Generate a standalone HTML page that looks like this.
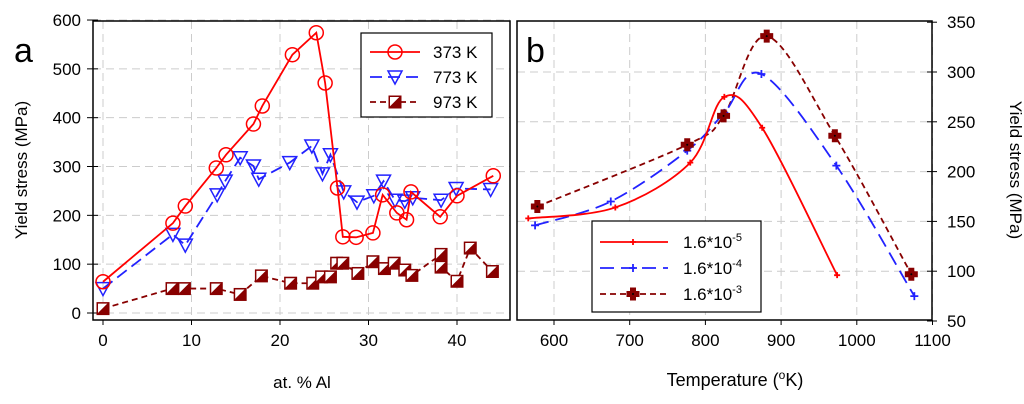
<!DOCTYPE html>
<html><head><meta charset="utf-8"><style>
body{margin:0;background:#fff}
svg{display:block;font-family:"Liberation Sans",sans-serif}
</style></head><body>
<svg id="c" width="1024" height="404"></svg>
<script>
const NS="http://www.w3.org/2000/svg";
const svg=document.getElementById('c');
// Panel a data
const aX373=[0,7.9,9.3,12.8,13.9,17,18,21.4,24.1,25.1,26.5,27.1,28.6,30.5,31.6,33.2,34.3,34.8,38.1,40,44.1];
const aY373=[64,184,219,297,324,387,424,529,574,471,256,156,155,164,242,205,191,248,197,240,281];
const aX773=[0,7.9,9.3,12.9,13.8,15.5,17,17.6,21.1,23.6,24.8,25.7,27.2,28.7,30.6,31.7,33,34.1,35,38.2,39.9,43.8];
const aY773=[50,161,139,242,270,318,301,274,308,342,285,324,248,227,240,270,231,229,236,231,255,253];
const aX973=[0,7.8,9.2,12.8,15.5,17.9,21.2,23.7,24.7,25.7,26.4,27.1,28.8,30.5,31.8,32.9,34.1,34.9,38.2,38.2,40,41.5,44];
const aY973=[9,50,50,50,38,76,61,61,74,74,102,102,81,105,91,102,88,77,120,94,65,133,85];
const aXTicks=[0,10,20,30,40];
const aYTicks=[0,100,200,300,400,500,600];
// Panel b data
const bT5=[566,681,780,825,875,974];
const bY5=[153,164,209,275,244,96];
const bT4=[575,675,776,825,874,973,1076];
const bY4=[146,170,221,259,298,206,75];
const bT3=[578,776,824,881,971,1072];
const bY3=[165,227,256,336,236,97];
const bXTicks=[600,700,800,900,1000,1100];
const bYTicks=[50,100,150,200,250,300,350];

function el(t,a,p){const e=document.createElementNS(NS,t);for(const k in a)e.setAttribute(k,a[k]);(p||svg).appendChild(e);return e;}
const ax=v=>103+v*8.85, ay=v=>313-v*0.4883;
const bx=v=>554+(v-600)*0.757, by=v=>72-(v-300)*0.996;

function frame(x1,y1,x2,y2,name){const r=el('rect',{x:x1,y:y1,width:x2-x1,height:y2-y1,fill:'none',stroke:'#000','stroke-width':1.5});}
function txt(x,y,s,o,p){const t=el('text',Object.assign({x:x,y:y,'font-size':17,fill:'#000'},o||{}),p);t.textContent=s;return t;}

// Panel a grid & axes
const ga=el('g',{});
aXTicks.forEach(v=>{el('line',{x1:ax(v),x2:ax(v),y1:21,y2:320,stroke:'#ccc','stroke-dasharray':'8,5'},ga);el('line',{x1:ax(v),x2:ax(v),y1:320,y2:325,stroke:'#000'});const t=txt(ax(v),346,v,{'text-anchor':'middle'});});
aYTicks.forEach(v=>{el('line',{x1:93,x2:510,y1:ay(v),y2:ay(v),stroke:'#ccc','stroke-dasharray':'8,5'},ga);el('line',{x1:87,x2:98,y1:ay(v),y2:ay(v),stroke:'#000'});const t=txt(81,ay(v)+6,v,{'text-anchor':'end'});});
frame(93,21,510,320,'panel-a-frame');
let t=txt(27,170,'Yield stress (MPa)',{'text-anchor':'middle',transform:'rotate(-90 27 170)'});
t=txt(302,388,'at. % Al',{'text-anchor':'middle'});
t=txt(14,62,'a',{'font-size':34});

function poly(xs,ys,fx,fy,color,dash,name){const p=el('polyline',{points:xs.map((x,i)=>fx(x)+','+fy(ys[i])).join(' '),fill:'none',stroke:color,'stroke-width':1.8,'stroke-dasharray':dash||'none'});}
function circ(x,y,g){el('circle',{cx:x,cy:y,r:7,fill:'none',stroke:'#f00','stroke-width':1.5},g);}
function tri(x,y,g){el('polygon',{points:`${x-7},${y-6} ${x+7},${y-6} ${x},${y+7}`,fill:'none',stroke:'#22f','stroke-width':1.5},g);}
function sq(x,y,g){el('rect',{x:x-6,y:y-6,width:12,height:12,fill:'#800',stroke:'#800'},g);el('polygon',{points:`${x-5},${y+5} ${x-5},${y-5} ${x+5},${y-5}`,fill:'#fff'},g);el('line',{x1:x-5,y1:y+5,x2:x+5,y2:y-5,stroke:'#800'},g);}

poly(aX973,aY973,ax,ay,'#800','6,4','line-973k');
let g=el('g',{});
aX973.forEach((x,i)=>sq(ax(x),ay(aY973[i]),g));
poly(aX773,aY773,ax,ay,'#22f','12,6','line-773k');
g=el('g',{});
aX773.forEach((x,i)=>tri(ax(x),ay(aY773[i]),g));
poly(aX373,aY373,ax,ay,'#f00','','line-373k');
g=el('g',{});
aX373.forEach((x,i)=>circ(ax(x),ay(aY373[i]),g));

// legend a
g=el('g',{});
el('rect',{x:361,y:33,width:131,height:84,fill:'#fff',stroke:'#000','stroke-width':1.2},g);
[['373 K','#f00','',circ],['773 K','#22f','12,6',tri],['973 K','#800','6,4',sq]].forEach((d,i)=>{const y=52+i*25;el('line',{x1:370,x2:420,y1:y,y2:y,stroke:d[1],'stroke-width':1.8,'stroke-dasharray':d[2]},g);d[3](395,y,g);const tt=txt(433,y+6,d[0],{'font-size':17},g);});

// Panel b
const gb=el('g',{});
bXTicks.forEach(v=>{el('line',{x1:bx(v),x2:bx(v),y1:21,y2:320,stroke:'#ccc','stroke-dasharray':'8,5'},gb);el('line',{x1:bx(v),x2:bx(v),y1:320,y2:325,stroke:'#000'});const t=txt(bx(v),346,v,{'text-anchor':'middle'});});
bYTicks.forEach(v=>{if(v<350&&v>50)el('line',{x1:517,x2:932,y1:by(v),y2:by(v),stroke:'#ccc','stroke-dasharray':'8,5'},gb);el('line',{x1:927,x2:937,y1:by(v),y2:by(v),stroke:'#000'});const t=txt(947,by(v)+6,v);});
frame(517,21,932,320,'panel-b-frame');
t=txt(1010,170,'Yield stress (MPa)',{'text-anchor':'middle',transform:'rotate(90 1010 170)'});
t=el('text',{x:735,y:386,'font-size':18,'text-anchor':'middle'});t.innerHTML='Temperature (<tspan dy="-7" font-size="12">o</tspan><tspan dy="7">K)</tspan>';
t=txt(526,62,'b',{'font-size':34});

function spline(xs,ys,color,dash,name){const P=xs.map((x,i)=>[bx(x),by(ys[i])]);let d='M'+P[0];for(let i=0;i<P.length-1;i++){const p0=P[i-1]||P[i],p1=P[i],p2=P[i+1],p3=P[i+2]||P[i+1];const c1=[p1[0]+(p2[0]-p0[0])/6,p1[1]+(p2[1]-p0[1])/6],c2=[p2[0]-(p3[0]-p1[0])/6,p2[1]-(p3[1]-p1[1])/6];d+=` C${c1} ${c2} ${p2}`;}const p=el('path',{d:d,fill:'none',stroke:color,'stroke-width':1.8,'stroke-dasharray':dash||'none'});}
function plus(x,y,c,g,s){el('path',{d:`M${x-s},${y}H${x+s}M${x},${y-s}V${y+s}`,stroke:c,'stroke-width':1.8},g);}
function cross(x,y,g){el('path',{d:`M${x-2.5},${y-6}h5v3.5h3.5v5h-3.5v3.5h-5v-3.5h-3.5v-5h3.5z`,fill:'#800',stroke:'#800','stroke-width':1},g);el('circle',{cx:x,cy:y,r:1,fill:'#000'},g);}

spline(bT3,bY3,'#800','6,4','line-1.6e-3');
spline(bT4,bY4,'#22f','14,7','line-1.6e-4');
spline(bT5,bY5,'#f00','','line-1.6e-5');
g=el('g',{});
bT5.forEach((x,i)=>plus(bx(x),by(bY5[i]),'#f00',g,3));
g=el('g',{});
bT4.forEach((x,i)=>plus(bx(x),by(bY4[i]),'#22f',g,4));
g=el('g',{});
bT3.forEach((x,i)=>cross(bx(x),by(bY3[i]),g));

g=el('g',{});
el('rect',{x:592,y:221,width:169,height:91,fill:'#fff',stroke:'#000','stroke-width':1.2},g);
[['-5','#f00','',(x,y)=>plus(x,y,'#f00',g,3)],['-4','#22f','14,7',(x,y)=>plus(x,y,'#22f',g,4)],['-3','#800','6,4',(x,y)=>cross(x,y,g)]].forEach((d,i)=>{const y=242+i*26;el('line',{x1:600,x2:668,y1:y,y2:y,stroke:d[1],'stroke-width':1.8,'stroke-dasharray':d[2]},g);d[3](633,y);const tt=el('text',{x:683,y:y+6,'font-size':17},g);tt.innerHTML=`1.6*10<tspan dy="-7" font-size="11">${d[0]}</tspan>`;});
</script>
</body></html>
